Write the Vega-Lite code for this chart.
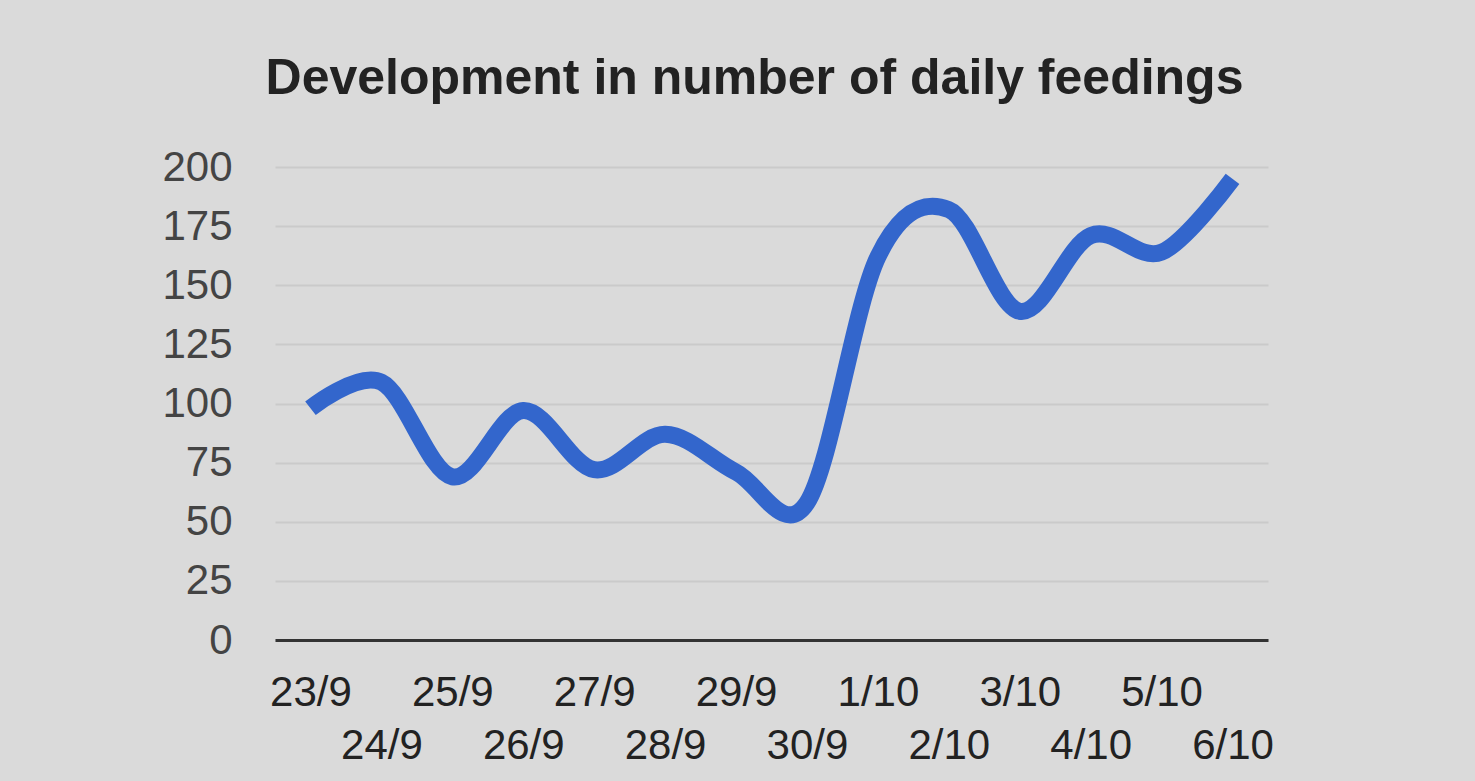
{
  "$schema": "https://vega.github.io/schema/vega-lite/v6.json",
  "width": 993,
  "height": 473,
  "autosize": {"type": "none"},
  "padding": {"left": 275, "top": 167, "right": 207, "bottom": 141},
  "background": "#dadada",
  "title": {
    "text": "Development in number of daily feedings",
    "font": "Liberation Sans",
    "fontSize": 50,
    "fontWeight": "bold",
    "color": "#222222",
    "anchor": "middle",
    "frame": "group",
    "baseline": "alphabetic",
    "offset": 1,
    "dx": -17
  },
  "data": {
    "values": [
      {"date": "23/9", "feedings": 98},
      {"date": "24/9", "feedings": 109},
      {"date": "25/9", "feedings": 69},
      {"date": "26/9", "feedings": 97},
      {"date": "27/9", "feedings": 72},
      {"date": "28/9", "feedings": 87},
      {"date": "29/9", "feedings": 71},
      {"date": "30/9", "feedings": 58},
      {"date": "1/10", "feedings": 162},
      {"date": "2/10", "feedings": 182},
      {"date": "3/10", "feedings": 139},
      {"date": "4/10", "feedings": 171},
      {"date": "5/10", "feedings": 164},
      {"date": "6/10", "feedings": 195}
    ]
  },
  "mark": {"type": "line", "interpolate": "cardinal", "strokeWidth": 17, "color": "#3366cc"},
  "encoding": {
    "x": {
      "field": "date",
      "type": "ordinal",
      "sort": null,
      "scale": {"type": "point", "padding": 0.5},
      "axis": {
        "title": null,
        "labelAngle": 0,
        "ticks": false,
        "grid": false,
        "domainColor": "#333333",
        "domainWidth": 3,
        "labelFont": "Liberation Sans",
        "labelFontSize": 42,
        "labelColor": "#222222",
        "labelBaseline": "alphabetic",
        "labelOverlap": false,
        "labelPadding": {
          "condition": {"test": "indexof(['24/9','26/9','28/9','30/9','2/10','4/10','6/10'], datum.value) >= 0", "value": 118},
          "value": 65
        }
      }
    },
    "y": {
      "field": "feedings",
      "type": "quantitative",
      "scale": {"domain": [0, 200], "nice": false},
      "axis": {
        "title": null,
        "values": [0, 25, 50, 75, 100, 125, 150, 175, 200],
        "domain": false,
        "ticks": false,
        "labelFont": "Liberation Sans",
        "labelFontSize": 42,
        "labelColor": "#444444",
        "labelPadding": 43,
        "gridColor": "#cacaca",
        "gridWidth": 2
      }
    }
  },
  "config": {"view": {"stroke": null}}
}
